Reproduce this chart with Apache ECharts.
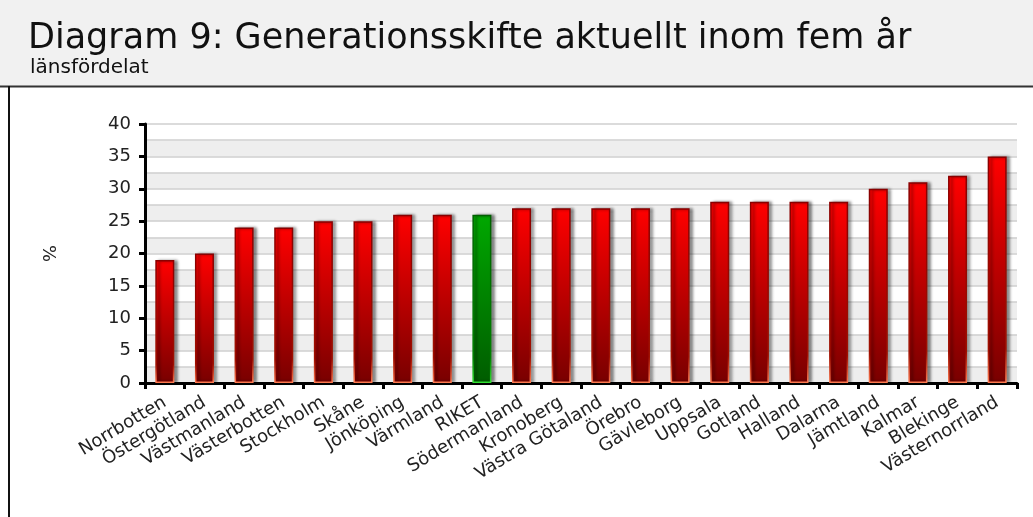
<!DOCTYPE html>
<html>
<head>
<meta charset="utf-8">
<script src="https://cdn.jsdelivr.net/npm/echarts@6/dist/echarts.min.js"></script>
<style>
html,body{margin:0;padding:0;background:#fff;}
#chart{width:1033px;height:517px;}
</style>
</head>
<body>
<div id="chart"></div>
<script>
const titleText = 'Diagram 9: Generationsskifte aktuellt inom fem år';
const subtitleText = 'länsfördelat';
const categories = ['Norrbotten','Östergötland','Västmanland','Västerbotten','Stockholm','Skåne','Jönköping','Värmland','RIKET','Södermanland','Kronoberg','Västra Götaland','Örebro','Gävleborg','Uppsala','Gotland','Halland','Dalarna','Jämtland','Kalmar','Blekinge','Västernorrland'];
const values = [19,20,24,24,25,25,26,26,26,27,27,27,27,27,28,28,28,28,30,31,32,35];
const highlight = 'RIKET';
const yName = '%';

const FONT = '"DejaVu Sans", "Noto Sans", sans-serif';
const redStyle = {
  color: new echarts.graphic.LinearGradient(0,0,0,1,[{offset:0,color:'#ff0000'},{offset:1,color:'#780000'}]),
  borderColor: new echarts.graphic.LinearGradient(0,0,0,1,[{offset:0,color:'#8a0000'},{offset:0.85,color:'#a01000'},{offset:1,color:'#ff7a50'}]),
  borderWidth: 1.5,
  shadowColor: 'rgba(0,0,0,0.45)', shadowBlur: 3, shadowOffsetX: 3, shadowOffsetY: 0
};
const greenStyle = {
  color: new echarts.graphic.LinearGradient(0,0,0,1,[{offset:0,color:'#00a800'},{offset:1,color:'#005c00'}]),
  borderColor: new echarts.graphic.LinearGradient(0,0,0,1,[{offset:0,color:'#006000'},{offset:0.85,color:'#008000'},{offset:1,color:'#30e030'}]),
  borderWidth: 1.5,
  shadowColor: 'rgba(0,0,0,0.45)', shadowBlur: 3, shadowOffsetX: 3, shadowOffsetY: 0
};

const chart = echarts.init(document.getElementById('chart'), null, {renderer:'canvas'});
chart.setOption({
  animation: false,
  backgroundColor: '#ffffff',
  graphic: [
    {type:'rect', z:-10, shape:{x:0,y:0,width:1033,height:86}, style:{fill:'#f1f1f1'}},
    {type:'line', z:-5, shape:{x1:0,y1:86.5,x2:1033,y2:86.5}, style:{stroke:'#333',lineWidth:2}},
    {type:'line', z:-5, shape:{x1:9,y1:86,x2:9,y2:517}, style:{stroke:'#111',lineWidth:2}},
    {type:'text', left:28, top:21, style:{text:titleText, font:'normal 35px ' + FONT, fill:'#111'}},
    {type:'text', left:30, top:58, style:{text:subtitleText, font:'normal 20px ' + FONT, fill:'#111'}}
  ],
  grid: {left:145, right:16, top:124, bottom:134, containLabel:false},
  xAxis: {
    type:'category', data: categories,
    axisLine:{show:true, lineStyle:{color:'#000', width:3}},
    axisTick:{show:true, alignWithLabel:false, length:6, lineStyle:{color:'#000', width:3}},
    axisLabel:{rotate:31, interval:0, fontFamily:FONT, fontSize:18, color:'#222', margin:18}
  },
  yAxis: [
    {
      type:'value', min:0, max:40, interval:2.5,
      axisLine:{show:false}, axisTick:{show:false}, axisLabel:{show:false},
      splitLine:{show:true, lineStyle:{color:'#cfcfcf', width:1.5}},
      splitArea:{show:true, areaStyle:{color:['#eeeeee','#ffffff']}}
    },
    {
      type:'value', min:0, max:40, interval:5, position:'left',
      name: yName, nameLocation:'middle', nameGap:88, nameRotate:-90,
      nameTextStyle:{fontFamily:FONT, fontSize:18, color:'#222'},
      axisLine:{show:true, lineStyle:{color:'#000', width:3}},
      axisTick:{show:true, length:6, lineStyle:{color:'#000', width:3}},
      axisLabel:{fontFamily:FONT, fontSize:18, color:'#222', margin:14},
      splitLine:{show:false}
    }
  ],
  series: [{
    type:'bar', yAxisIndex:0, barWidth:'48%',
    data: categories.map((c,i)=>({value: values[i], itemStyle: c===highlight ? greenStyle : redStyle}))
  }]
});
</script>
</body>
</html>
